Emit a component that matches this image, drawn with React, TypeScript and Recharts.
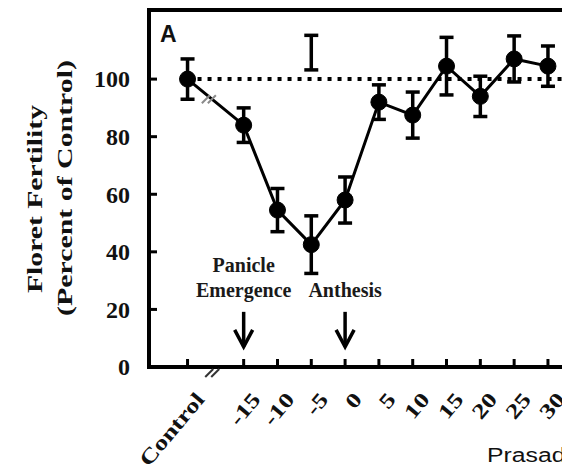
import React from 'react';
import {
    ComposedChart,
    Line,
    Scatter,
    XAxis,
    YAxis,
    ErrorBar,
    ReferenceLine,
    ReferenceArea,
    ReferenceDot,
} from 'recharts';

// "Control" sits left of the axis break, so it gets its own spot on the day scale
const CONTROL_X = -23.3;

const days = [CONTROL_X, -15, -10, -5, 0, 5, 10, 15, 20, 25, 30];
const dayLabels = ['Control', '-15', '-10', '-5', '0', '5', '10', '15', '20', '25', '30'];
const fertility = [100, 84, 54.5, 42.5, 58, 92, 87.5, 104.5, 94, 107, 104.5];
const fertilityErr = [7, 6, 7.5, 10, 8, 6, 8, 10, 7, 8, 7];
const yTicks = [0, 20, 40, 60, 80, 100];

// LSD bar drawn on its own above the curve
const lsdDay = [-5];
const lsdCenter = [109.2];
const lsdHalf = [6];

const annotations = [
    { day: -15, lines: ['Panicle', 'Emergence'] },
    { day: 0, lines: ['Anthesis'] },
];

const X_DOMAIN: [number, number] = [-29, 34];
const Y_DOMAIN: [number, number] = [0, 124];

const rows = days.map((d, i) => ({ x: d, y: fertility[i], err: fertilityErr[i] }));
const lsdRows = lsdDay.map((d, i) => ({ x: d, y: lsdCenter[i], err: lsdHalf[i] }));

const SERIF = "'Liberation Serif', 'Times New Roman', serif";
const SANS = "'Liberation Sans', Arial, sans-serif";

function DayTick({ x, y, payload }: any) {
    const i = days.indexOf(payload.value);
    const label = i >= 0 ? dayLabels[i] : String(payload.value);
    return (
        <g>
            <line x1={x} y1={y} x2={x} y2={y - 8} stroke="#000" strokeWidth={3} />
            <text
                transform={`translate(${x + 18},${y + 33}) rotate(-50) scale(1.27,1)`}
                textAnchor="end"
                fontFamily={SERIF}
                fontWeight="bold"
                fontSize={21}
                fill="#111"
            >
                {label}
            </text>
        </g>
    );
}

function PctTick({ x, y, payload }: any) {
    return (
        <g>
            <line x1={x} y1={y} x2={x + 8} y2={y} stroke="#000" strokeWidth={3} />
            <text
                x={x - 19}
                y={y}
                dy="0.35em"
                textAnchor="end"
                fontFamily={SERIF}
                fontWeight="bold"
                fontSize={24}
                fill="#111"
            >
                {payload.value}
            </text>
        </g>
    );
}

// "//" marks where the day axis is broken
function SlashPair({ cx, cy, color }: any) {
    return (
        <g stroke={color} strokeWidth={2}>
            <line x1={cx - 8} y1={cy + 4} x2={cx} y2={cy - 4} />
            <line x1={cx - 2} y1={cy + 4} x2={cx + 6} y2={cy - 4} />
        </g>
    );
}

function StageArrow({ cx, cy, lines }: any) {
    return (
        <g>
            <line x1={cx} y1={cy - 35} x2={cx} y2={cy} stroke="#000" strokeWidth={3.5} />
            <polyline
                points={`${cx - 9},${cy - 17} ${cx},${cy} ${cx + 9},${cy - 17}`}
                fill="none"
                stroke="#000"
                strokeWidth={3.5}
            />
            {lines.map((t: string, k: number) => (
                <text
                    key={t}
                    x={cx}
                    y={cy - 50 - (lines.length - 1 - k) * 25}
                    textAnchor="middle"
                    fontFamily={SERIF}
                    fontWeight="bold"
                    fontSize={20}
                    fill="#1a1a1a"
                >
                    {t}
                </text>
            ))}
        </g>
    );
}

export default function App() {
    return (
        <div style={{ position: 'fixed', left: 0, top: 0, width: 562, height: 475, overflow: 'hidden', background: '#fff' }}>
            <ComposedChart
                width={600}
                height={475}
                data={rows}
                margin={{ top: 10, right: 25, bottom: 0, left: 0 }}
            >
                <XAxis
                    type="number"
                    dataKey="x"
                    domain={X_DOMAIN}
                    ticks={days}
                    allowDataOverflow
                    height={108}
                    tickSize={0}
                    tickMargin={0}
                    tick={<DayTick />}
                    axisLine={{ stroke: '#000', strokeWidth: 4 }}
                    interval={0}
                />
                <YAxis
                    type="number"
                    domain={Y_DOMAIN}
                    ticks={yTicks}
                    allowDataOverflow
                    width={149}
                    tickSize={0}
                    tickMargin={0}
                    tick={<PctTick />}
                    axisLine={{ stroke: '#000', strokeWidth: 4 }}
                    interval={0}
                />
                <ReferenceArea
                    x1={X_DOMAIN[0]}
                    x2={X_DOMAIN[1]}
                    y1={Y_DOMAIN[0]}
                    y2={Y_DOMAIN[1]}
                    fill="none"
                    stroke="#000"
                    strokeWidth={4}
                    ifOverflow="visible"
                />
                <ReferenceLine
                    segment={[{ x: CONTROL_X, y: 100 }, { x: X_DOMAIN[1], y: 100 }]}
                    stroke="#000"
                    strokeWidth={4}
                    strokeDasharray="4 6"
                />
                <Scatter data={lsdRows} dataKey="y" shape={() => <g />} isAnimationActive={false}>
                    <ErrorBar dataKey="err" direction="y" width={7} stroke="#000" strokeWidth={3.5} isAnimationActive={false} />
                </Scatter>
                <Line
                    dataKey="y"
                    stroke="#000"
                    strokeWidth={3}
                    dot={{ r: 8, fill: '#000', stroke: '#000', strokeWidth: 1 }}
                    activeDot={false}
                    isAnimationActive={false}
                >
                    <ErrorBar dataKey="err" direction="y" width={7} stroke="#000" strokeWidth={3.5} isAnimationActive={false} />
                </Line>
                <ReferenceDot x={-20} y={93} r={0} shape={(p: any) => <SlashPair {...p} color="#8a8a8a" />} />
                <ReferenceDot x={-19.5} y={0} r={0} ifOverflow="visible" shape={(p: any) => <SlashPair cx={p.cx} cy={p.cy + 6} color="#333" />} />
                {annotations.map((a) => (
                    <ReferenceDot
                        key={a.day}
                        x={a.day}
                        y={7}
                        r={0}
                        shape={(p: any) => <StageArrow {...p} lines={a.lines} />}
                    />
                ))}
            </ComposedChart>
            <svg
                width={562}
                height={475}
                style={{ position: 'absolute', left: 0, top: 0, pointerEvents: 'none' }}
            >
                <text
                    transform="translate(42,199) rotate(-90)"
                    textAnchor="middle"
                    textLength={188}
                    lengthAdjust="spacingAndGlyphs"
                    fontFamily={SERIF}
                    fontWeight="bold"
                    fontSize={22}
                    fill="#111"
                >
                    Floret Fertility
                </text>
                <text
                    transform="translate(72,188) rotate(-90)"
                    textAnchor="middle"
                    textLength={256}
                    lengthAdjust="spacingAndGlyphs"
                    fontFamily={SERIF}
                    fontWeight="bold"
                    fontSize={22}
                    fill="#111"
                >
                    (Percent of Control)
                </text>
                <text x={160} y={42} fontFamily={SANS} fontSize={23} fontWeight="bold" fill="#111">
                    A
                </text>
                <text transform="translate(487,462) scale(1.18,1)" fontFamily={SANS} fontSize={21} fill="#111">
                    Prasad
                </text>
            </svg>
        </div>
    );
}
